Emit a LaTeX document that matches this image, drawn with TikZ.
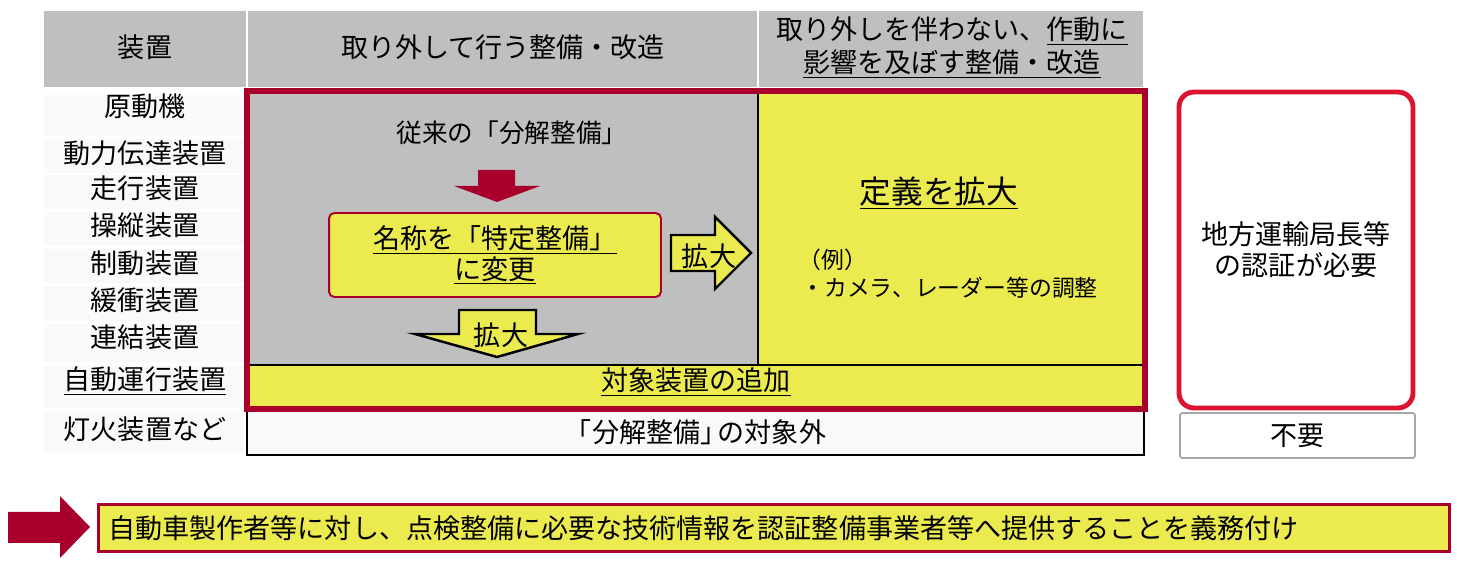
\documentclass[tikz,border=0pt]{standalone}
\usepackage{fontspec}
\setmainfont{Noto Sans CJK JP}
\usetikzlibrary{positioning}
\definecolor{hdrgray}{HTML}{BFBFBF}
\definecolor{rowgray}{HTML}{F9F9F9}
\definecolor{markyellow}{HTML}{EBEB50}
\definecolor{darkred}{HTML}{A8002A}
\definecolor{brightred}{HTML}{DC1432}
\newcommand{\fsMain}{\fontsize{15.4pt}{18.8pt}\selectfont}
\newcommand{\fsTwo}{\fontsize{15.4pt}{17.6pt}\selectfont}
\newcommand{\fsSmall}{\fontsize{13pt}{15.4pt}\selectfont}
\newcommand{\fsLarge}{\fontsize{18pt}{21pt}\selectfont}

\begin{document}
\begin{tikzpicture}[x=0.02cm, y=-0.02cm]
\tikzstyle{celltext} = [font=\fsMain, inner sep=0pt, align=center]
\tikzstyle{twoline} = [celltext, font=\fsTwo]
\tikzstyle{namebox} = [rectangle, rounded corners=3pt, minimum width=6.64cm, minimum height=1.68cm,
                      draw=darkred, line width=1.1pt, fill=markyellow, font=\fsTwo, align=center]
\tikzstyle{approvalbox} = [rectangle, rounded corners=8.5pt, minimum width=4.68cm, minimum height=6.32cm,
                          draw=brightred, line width=2.8pt, fill=white, font=\fsTwo, align=center]
\tikzstyle{plainbox} = [rectangle, minimum height=0.9cm, font=\fsMain, inner sep=0pt]
\tikzstyle{blockarrow} = [fill=markyellow, draw=black, line width=1.4pt, line join=miter]
\useasboundingbox (0,0) rectangle (1457,573);

% header row
\fill[hdrgray] (44,11) rectangle (246,87);
\fill[hdrgray] (248,11) rectangle (757,87);
\fill[hdrgray] (759,11) rectangle (1143,87);
\node (hdrDevice) [celltext] at (145,47) {装置};
\node (hdrRemove) [celltext] at (503,47) {取り外して行う整備・改造};
\node (hdrNoRemove) [celltext] at (952,48) {取り外しを伴わない、\underline{作動に}\\ \underline{影響を及ぼす整備・改造}};

% device column
\fill[rowgray] (44,95) rectangle (244,136);
\fill[rowgray] (44,139) rectangle (244,173);
\fill[rowgray] (44,175) rectangle (244,209);
\fill[rowgray] (44,212) rectangle (244,246);
\fill[rowgray] (44,249) rectangle (244,283);
\fill[rowgray] (44,286) rectangle (244,321);
\fill[rowgray] (44,324) rectangle (244,362);
\fill[rowgray] (44,366) rectangle (244,408);
\fill[rowgray] (44,411) rectangle (244,453);
\node (devEngine) [celltext] at (145,106) {原動機};
\node (devDrive) [celltext] at (145,153) {動力伝達装置};
\node (devRun) [celltext] at (145,188) {走行装置};
\node (devSteer) [celltext] at (145,225) {操縦装置};
\node (devBrake) [celltext] at (145,263) {制動装置};
\node (devBuffer) [celltext] at (145,300) {緩衝装置};
\node (devCouple) [celltext] at (145,337) {連結装置};
\node (devAuto) [celltext] at (145,381) {\underline{自動運行装置}};
\node (devLamp) [celltext] at (145,429) {灯火装置など};

% target area
\fill[hdrgray] (250,94) rectangle (758,365);
\fill[markyellow] (758,94) rectangle (1142,365);
\fill[markyellow] (250,365) rectangle (1142,406);
\draw[line width=0.9pt] (758,94) -- (758,365);
\draw[line width=0.9pt] (250,365) -- (1142,365);
\node (outOfScope) [plainbox, draw=black, line width=0.8pt, fill=rowgray, minimum width=17.94cm,
                    minimum height=0.92cm] at (695.5,432) {「分解整備」\kern-0.35em の対象外};
\draw[darkred, line width=3.4pt] (247,91) rectangle (1145,409);

\node (oldName) [celltext, font=\fontsize{14.6pt}{17pt}\selectfont] at (512,133) {従来の「分解整備」};
\fill[darkred] (478,170) -- (515,170) -- (515,186) -- (540,186) -- (497,202) -- (454,186) -- (478,186) -- cycle;
\node (renameBox) [namebox] at (495,255) {\underline{名称を「特定整備」}\\ \underline{に変更}};

% expand arrows
\draw[blockarrow] (671,235) -- (715,235) -- (715,217) -- (751,253) -- (715,289) -- (715,271) -- (671,271) -- cycle;
\node (expandRight) [celltext] at (709,256) {拡大};
\draw[blockarrow] (459,310) -- (536,310) -- (536,334) -- (578,334) -- (497,357) -- (415,334) -- (459,334) -- cycle;
\node (expandDown) [celltext] at (501,335) {拡大};

\node (defExpand) [celltext, font=\fsLarge] at (939,193) {\underline{定義を拡大}};
\node (exLabel) [celltext, font=\fsSmall, anchor=west] at (798,260) {（例）};
\node (exItem) [celltext, font=\fsSmall, anchor=west] at (801,288) {・カメラ、レーダー等の調整};
\node (addDevice) [celltext] at (696,382) {\underline{対象装置の追加}};

% approval column
\node (approvalBox) [approvalbox] at (1296,250) {地方運輸局長等\\の認証が必要};
\node (notNeeded) [plainbox, draw=gray!70, line width=0.9pt, fill=white, rounded corners=1pt,
                   minimum width=4.7cm] at (1297.5,435.5) {不要};

% obligation
\fill[darkred] (8,512) -- (60,512) -- (60,496) -- (90,527) -- (60,558) -- (60,543) -- (8,543) -- cycle;
\node (dutyBar) [rectangle, draw=darkred, line width=1.7pt, fill=markyellow, anchor=west,
                 minimum height=0.94cm, text width=26.62cm, inner xsep=0.2cm, font=\fsMain,
                 align=left] at (97,528) {自動車製作者等に対し、点検整備に必要な技術情報を認証整備事業者等へ提供することを義務付け};
\end{tikzpicture}
\end{document}
